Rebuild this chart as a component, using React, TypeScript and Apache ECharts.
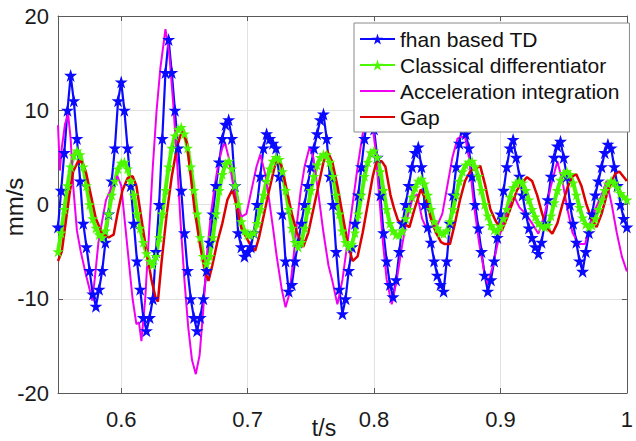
import React, { useEffect, useRef } from "react";
import * as echarts from "echarts";

// Sampling grid of the two marker series (s)
const SAMPLE_T0 = 0.55;
const SAMPLE_DT = 0.0025;

// fhan based TD (mm/s), one value every 2.5 ms from 0.55 s
const fhanTD = [
  -2.4, 1.5, 5.5, 10, 13.7, 11, 7, 2.5, -2, -4.5, -7, -9.5, -10.8, -9, -7, -4, -1, 2.5, 6, 11,
  13, 10, 6, 2, -2, -6, -9, -12, -13.4, -12, -10, -5, 0, 7, 14, 17.5, 14, 10, 6, 1.5,
  -3, -7, -10, -12, -13.4, -12, -10, -7, -4, -1, 2, 4.5, 7, 8.5, 9, 7, 2, -3, -4.5, -5.5,
  -5, -4.5, -3, 0, 3, 6, 7.5, 7, 6.5, 6, 3, -1, -6, -9.2, -8.5, -6, -4, -2, 0, 2,
  4, 6, 7.5, 9, 9.6, 7, 3, 0, -5, -9, -11.6, -10, -7, -4.5, -2, 1, 4, 7, 9.5, 10.5,
  8, 5, 1, -3, -6, -8.5, -9.8, -8, -5, -2, 0, 2, 4, 5.5, 6.1, 4, 0, -2.4, -4, -6,
  -7.5, -8.5, -9.2, -6, -2, 1, 4, 6.5, 8.5, 7.5, 6, 3, 0, -2.5, -5, -7.5, -9.2, -8, -6, -3.5,
  -1, 1.5, 4, 6, 6.9, 5, 3, 1, -1, -2.5, -3.5, -4.5, -5.2, -4, -2, 0.5, 3, 5, 6.2, 6.7,
  5, 3, 0, -2, -4, -6, -7.1, -5, -3, -1, 1, 2.5, 4, 5.5, 6.4, 6, 4, 2, 0, -1.5,
  -2.4,
];

// Classical differentiator (mm/s), same grid
const classicalDiff = [
  -5, -3, -0.5, 2, 4, 5.2, 5.7, 5.3, 4, 2, 0, -1.5, -2.5, -3.2, -3.5, -2.8, -1, 1, 2.5, 3.8,
  4.4, 4.5, 3.8, 2.5, 1, -1, -2.5, -4, -5.2, -6, -6.4, -5.5, -3.5, -1, 1.5, 4, 6, 7.3, 8, 8.2,
  7.5, 6, 4, 1.5, -1, -3.5, -5.5, -6.3, -5.5, -3.5, -1, 1.5, 3.2, 4.3, 4.6, 3.8, 2, 0, -1.8, -2.8,
  -3.2, -3.2, -3, -2, -0.5, 1, 2.5, 3.8, 4.6, 5, 4.8, 3.5, 1.5, -0.5, -2.5, -4, -4.5, -4, -2.5, -0.5,
  1.5, 3, 4.2, 5, 5.3, 5.3, 4.5, 3, 1, -1, -2.8, -4, -4.5, -4.2, -3, -1, 1, 3, 4.5, 5.5,
  5.7, 5, 3.5, 1.5, -0.5, -2, -2.8, -3.2, -3.2, -2.8, -1.5, -0.5, 0.8, 1.8, 2.5, 2.7, 2.2, 1, -0.5, -1.8,
  -2.5, -3, -3.1, -2.8, -1.8, -0.5, 1, 2.5, 3.5, 4.2, 4.5, 4.6, 4, 3, 1.5, 0, -1.2, -2.2, -2.7, -2.8,
  -2.3, -1.5, -0.5, 0.8, 1.8, 2.3, 2.5, 2.3, 1.5, 0.5, -0.5, -1.3, -2, -2.3, -2.4, -2.2, -1.2, 0.2, 1.5, 2.6,
  3.3, 3.5, 3.2, 2.3, 1, -0.3, -1.4, -2.1, -2.4, -2.2, -1.5, -0.5, 0.5, 1.5, 2.2, 2.5, 2.3, 1.8, 1.2, 0.8,
  0.5,
];

// Acceleration integration: [t (s), v (mm/s)]
const accelIntegration: [number, number][] = [
  [0.55, 8.4], [0.5515, 3.6], [0.553, 6], [0.5555, 8.5], [0.558, 9.6], [0.56, 7], [0.562, 2], [0.565, -2.8],
  [0.568, -5], [0.572, -7.4], [0.575, -9], [0.577, -10.2], [0.579, -8], [0.582, -4], [0.585, -1.7], [0.588, 0.5],
  [0.591, 1.4], [0.594, 2.5], [0.597, 3], [0.6, 2], [0.603, -2], [0.606, -6], [0.609, -10], [0.612, -12.7],
  [0.614, -12.5], [0.616, -14.5], [0.619, -10], [0.622, -3], [0.625, 4], [0.628, 10], [0.631, 14.5], [0.635, 18.6],
  [0.638, 16], [0.641, 11], [0.644, 5], [0.647, -2], [0.65, -8], [0.653, -13], [0.656, -16.5], [0.659, -18],
  [0.662, -16], [0.665, -11], [0.668, -5], [0.671, -1], [0.674, 2], [0.677, 4.5], [0.68, 6], [0.682, 6.6],
  [0.685, 5], [0.688, 2.5], [0.691, 0.5], [0.695, -1.3], [0.699, -1], [0.703, 1.5], [0.707, 4], [0.71, 5.3],
  [0.714, 3.2], [0.717, 0.5], [0.72, -2.4], [0.723, -5.5], [0.727, -9], [0.73, -10.9], [0.733, -9.5], [0.736, -6],
  [0.739, -2], [0.742, 1.5], [0.745, 4], [0.749, 6.1], [0.752, 5], [0.756, 1.1], [0.76, -3], [0.764, -6.5],
  [0.767, -8.1], [0.771, -10.6], [0.775, -8], [0.779, -4], [0.783, 0], [0.787, 4], [0.791, 7.5], [0.795, 9],
  [0.798, 9.2], [0.801, 6], [0.804, 1], [0.807, -4], [0.81, -8], [0.814, -10.6], [0.818, -8], [0.822, -4.5],
  [0.826, -1.5], [0.83, 0.5], [0.834, 1.1], [0.838, -1.5], [0.841, -2.4], [0.846, -2.4], [0.85, -2.2], [0.854, -1],
  [0.858, 2], [0.862, 5], [0.866, 7], [0.869, 7.2], [0.872, 7.2], [0.875, 5], [0.879, 0], [0.883, -4],
  [0.887, -7], [0.89, -8.4], [0.894, -6.5], [0.898, -4], [0.902, -2], [0.906, -0.5], [0.911, 0.8], [0.915, -0.3],
  [0.92, -1], [0.925, -2], [0.93, -3.1], [0.935, -1], [0.94, 2], [0.945, 4.6], [0.949, 2.5], [0.953, -0.5],
  [0.957, -3], [0.962, -4.2], [0.967, -4.2], [0.971, -2], [0.975, -0.5], [0.98, 1], [0.984, 2.5], [0.988, 0],
  [0.992, -3], [0.996, -5.5], [1.0, -7.1],
];

// Gap: [t (s), v (mm/s)]
const gapSeries: [number, number][] = [
  [0.55, -6], [0.553, -5], [0.556, -2], [0.559, 1], [0.562, 3.5], [0.566, 4.6], [0.569, 4.5], [0.572, 3.5],
  [0.576, 1], [0.58, -1.5], [0.585, -3.1], [0.59, -3.5], [0.594, -3.2], [0.597, -1], [0.601, 1.5], [0.605, 2.8],
  [0.609, 3.0], [0.612, 2], [0.616, -1.5], [0.62, -5], [0.624, -8], [0.627, -9.8], [0.629, -10.3], [0.632, -6],
  [0.636, -1], [0.64, 3], [0.644, 6], [0.647, 7.4], [0.649, 7.7], [0.652, 6.5], [0.655, 3], [0.658, -0.5],
  [0.662, -4], [0.666, -7], [0.669, -8.1], [0.672, -6.5], [0.676, -4], [0.68, -2], [0.684, 0.5], [0.688, 1.6],
  [0.691, 0], [0.695, -2.5], [0.699, -3.5], [0.703, -4.5], [0.706, -4.9], [0.709, -3.5], [0.713, -1], [0.717, 1.5],
  [0.721, 3.8], [0.724, 5.0], [0.727, 4], [0.731, 1.5], [0.735, -1], [0.739, -3], [0.744, -4.5], [0.748, -3],
  [0.752, -0.5], [0.756, 2], [0.76, 4.5], [0.763, 5.7], [0.767, 4.5], [0.771, 2], [0.775, -1], [0.779, -4],
  [0.783, -6], [0.787, -5.5], [0.791, -3], [0.795, 0], [0.799, 3], [0.802, 4.6], [0.806, 4.6], [0.809, 4],
  [0.813, 1], [0.816, -0.5], [0.819, -1.7], [0.823, -2], [0.828, -2.4], [0.832, -0.5], [0.837, 1.6], [0.841, 0.5],
  [0.845, -1.5], [0.849, -3], [0.853, -4], [0.856, -4.2], [0.86, -4.2], [0.864, -2], [0.868, 0.5], [0.872, 2.5],
  [0.876, 3.5], [0.88, 3.8], [0.884, 4.1], [0.888, 2], [0.892, -0.5], [0.896, -1.7], [0.901, -2.8], [0.905, -1.5],
  [0.909, 0], [0.913, 1.5], [0.917, 2.3], [0.921, 2.9], [0.925, 2.5], [0.929, 1], [0.933, -1], [0.937, -2.5],
  [0.941, -3.1], [0.945, -2], [0.949, 0], [0.953, 1.8], [0.957, 3], [0.96, 3.2], [0.964, 2], [0.968, 0],
  [0.972, -1.5], [0.976, -2.4], [0.98, -1], [0.984, 1], [0.988, 2.5], [0.991, 3.3], [0.994, 3.5], [0.997, 3],
  [1.0, 2.5],
];

const seriesNames = [
  "fhan based TD",
  "Classical differentiator",
  "Acceleration integration",
  "Gap",
];
const xTickValues = [0.6, 0.7, 0.8, 0.9, 1];
const xRange = [0.55, 1];
const yRange = [-20, 20];
const yStep = 10;
const xName = "t/s";
const yName = "mm/s";

const FONT = "'Liberation Sans', Arial, Helvetica, sans-serif";
const STAR =
  "path://M50,0L61.2,34.5L97.6,34.5L68.2,55.9L79.4,90.5L50,69.1L20.6,90.5L31.8,55.9L2.4,34.5L38.8,34.5Z";
const LINE_ICON = "path://M0,0L35,0L35,2.2L0,2.2Z";
const AXIS_COLOR = "#5a5a5a";
const COLORS = ["#0a0aff", "#4cf800", "#f000f0", "#dd0000"];

function pairUp(values: number[]): [number, number][] {
  return values.map((v, i) => [+(SAMPLE_T0 + i * SAMPLE_DT).toFixed(4), v]);
}

export default function App() {
  const ref = useRef<HTMLDivElement>(null);
  useEffect(() => {
    if (!ref.current) return;
    const chart = echarts.init(ref.current, undefined, { renderer: "svg" });
    const axisCommon = {
      type: "value" as const,
      axisLine: { show: true, onZero: false, lineStyle: { color: AXIS_COLOR, width: 1 } },
    };
    chart.setOption({
      animation: false,
      backgroundColor: "#ffffff",
      grid: { left: 58, right: 2, top: 16, bottom: 48, containLabel: false },
      xAxis: [
        {
          ...axisCommon,
          min: xRange[0],
          max: xRange[1],
          position: "bottom",
          axisTick: {
            show: true,
            inside: true,
            length: 5,
            customValues: xTickValues,
            lineStyle: { color: AXIS_COLOR },
          },
          axisLabel: {
            customValues: xTickValues,
            margin: 15,
            fontSize: 22,
            fontFamily: FONT,
            color: "#1a1a1a",
            formatter: (v: number) => String(v),
          },
          splitLine: { show: true, lineStyle: { color: "#e2e2e2", width: 1 } },
        },
        {
          ...axisCommon,
          min: xRange[0],
          max: xRange[1],
          position: "top",
          axisTick: {
            show: true,
            inside: true,
            length: 5,
            customValues: xTickValues,
            lineStyle: { color: AXIS_COLOR },
          },
          axisLabel: { show: false, customValues: xTickValues },
          splitLine: { show: false },
        },
      ],
      yAxis: [
        {
          ...axisCommon,
          min: yRange[0],
          max: yRange[1],
          interval: yStep,
          position: "left",
          axisTick: { show: true, inside: true, length: 5, lineStyle: { color: AXIS_COLOR } },
          axisLabel: { margin: 9, fontSize: 22, fontFamily: FONT, color: "#1a1a1a" },
          splitLine: { show: true, lineStyle: { color: "#e2e2e2", width: 1 } },
        },
        {
          ...axisCommon,
          min: yRange[0],
          max: yRange[1],
          interval: yStep,
          position: "right",
          axisTick: { show: true, inside: true, length: 5, lineStyle: { color: AXIS_COLOR } },
          axisLabel: { show: false },
          splitLine: { show: false },
        },
      ],
      legend: {
        data: [
          { name: seriesNames[0] },
          { name: seriesNames[1] },
          { name: seriesNames[2], icon: LINE_ICON },
          { name: seriesNames[3], icon: LINE_ICON },
        ],
        orient: "vertical",
        left: 354,
        top: 23,
        padding: [3, 10, 2, 5],
        itemGap: 0,
        itemWidth: 35,
        itemHeight: 14,
        backgroundColor: "#ffffff",
        borderColor: "#8a8a8a",
        borderWidth: 1,
        borderRadius: 0,
        textStyle: { fontSize: 21, fontFamily: FONT, color: "#111", lineHeight: 26 },
      },
      graphic: [
        {
          type: "text",
          x: 324,
          y: 428,
          style: {
            text: xName,
            fontSize: 23,
            fontFamily: FONT,
            fill: "#1a1a1a",
            align: "center",
            verticalAlign: "middle",
          },
        },
        {
          type: "text",
          x: 14,
          y: 207,
          rotation: Math.PI / 2,
          style: {
            text: yName,
            fontSize: 24,
            fontFamily: FONT,
            fill: "#1a1a1a",
            align: "center",
            verticalAlign: "middle",
          },
        },
      ],
      series: [
        {
          name: seriesNames[0],
          type: "line",
          data: pairUp(fhanTD),
          symbol: STAR,
          symbolSize: 13,
          showSymbol: true,
          itemStyle: { color: COLORS[0] },
          lineStyle: { color: COLORS[0], width: 2.2 },
          clip: true,
        },
        {
          name: seriesNames[1],
          type: "line",
          data: pairUp(classicalDiff),
          symbol: STAR,
          symbolSize: 11,
          showSymbol: true,
          itemStyle: { color: COLORS[1] },
          lineStyle: { color: COLORS[1], width: 4 },
          clip: true,
        },
        {
          name: seriesNames[2],
          type: "line",
          data: accelIntegration,
          symbol: "none",
          itemStyle: { color: COLORS[2] },
          lineStyle: { color: COLORS[2], width: 2 },
          clip: true,
        },
        {
          name: seriesNames[3],
          type: "line",
          data: gapSeries,
          symbol: "none",
          itemStyle: { color: COLORS[3] },
          lineStyle: { color: COLORS[3], width: 2.5 },
          clip: true,
        },
      ],
    });
    return () => chart.dispose();
  }, []);
  return (
    <div
      ref={ref}
      style={{ position: "fixed", left: 0, top: 0, width: 636, height: 441, background: "#fff" }}
    />
  );
}
